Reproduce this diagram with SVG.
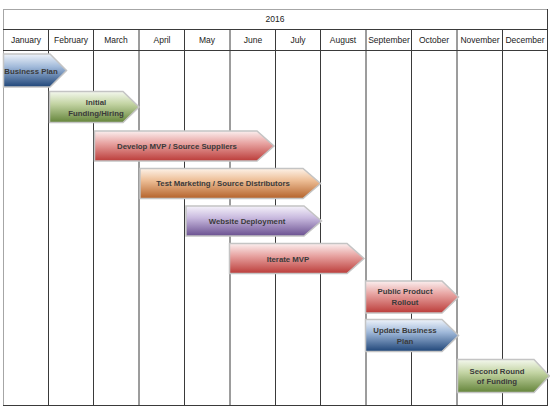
<svg xmlns="http://www.w3.org/2000/svg" width="550" height="411" viewBox="0 0 550 411">
<defs>
<linearGradient id="gBlue" x1="0" y1="0" x2="0" y2="1">
<stop offset="0" stop-color="#eef3fa"/><stop offset="0.4" stop-color="#9fb8d9"/><stop offset="1" stop-color="#1f4578"/>
</linearGradient>
<linearGradient id="gGreen" x1="0" y1="0" x2="0" y2="1">
<stop offset="0" stop-color="#f4f8ee"/><stop offset="0.4" stop-color="#c3d4a3"/><stop offset="1" stop-color="#64843a"/>
</linearGradient>
<linearGradient id="gRed" x1="0" y1="0" x2="0" y2="1">
<stop offset="0" stop-color="#fbefef"/><stop offset="0.4" stop-color="#e8a5a3"/><stop offset="1" stop-color="#bb3c39"/>
</linearGradient>
<linearGradient id="gOrange" x1="0" y1="0" x2="0" y2="1">
<stop offset="0" stop-color="#fdf2e8"/><stop offset="0.4" stop-color="#edbe96"/><stop offset="1" stop-color="#b4622a"/>
</linearGradient>
<linearGradient id="gPurple" x1="0" y1="0" x2="0" y2="1">
<stop offset="0" stop-color="#f5f2fa"/><stop offset="0.4" stop-color="#c8b9de"/><stop offset="1" stop-color="#6a5090"/>
</linearGradient>
</defs>
<style>
.grid{stroke:#3a3a3a;stroke-width:1;fill:none}
.outer{stroke:#a6a6a6;stroke-width:1;fill:none}
.hdr{font-family:"Liberation Sans",Arial,sans-serif;font-size:8.5px;fill:#222;text-anchor:middle}
.bar{stroke:#c4c4c4;stroke-width:1.5}
.lbl{font-family:"Liberation Sans",Arial,sans-serif;font-size:7.8px;font-weight:bold;fill:#3a3a3a;text-anchor:middle}
</style>
<rect width="550" height="411" fill="#ffffff"/>
<g id="table">
<rect class="outer" x="3.5" y="9.5" width="544" height="396"/>
<line class="grid" x1="3" y1="29.5" x2="548" y2="29.5"/>
<line class="grid" x1="3" y1="50.5" x2="548" y2="50.5"/>
<line class="grid" x1="3" y1="405.5" x2="548" y2="405.5"/>
<line class="grid" x1="547.5" y1="9" x2="547.5" y2="406"/>
<line class="grid" x1="48.5" y1="29" x2="48.5" y2="406"/>
<line class="grid" x1="93.5" y1="29" x2="93.5" y2="406"/>
<line class="grid" x1="139" y1="29" x2="139" y2="406"/>
<line class="grid" x1="184.5" y1="29" x2="184.5" y2="406"/>
<line class="grid" x1="230" y1="29" x2="230" y2="406"/>
<line class="grid" x1="275.5" y1="29" x2="275.5" y2="406"/>
<line class="grid" x1="320.5" y1="29" x2="320.5" y2="406"/>
<line class="grid" x1="366" y1="29" x2="366" y2="406"/>
<line class="grid" x1="411.5" y1="29" x2="411.5" y2="406"/>
<line class="grid" x1="457" y1="29" x2="457" y2="406"/>
<line class="grid" x1="502.5" y1="29" x2="502.5" y2="406"/>
<text class="hdr" x="275" y="22">2016</text>
<text class="hdr" x="26" y="43">January</text>
<text class="hdr" x="71" y="43">February</text>
<text class="hdr" x="116" y="43">March</text>
<text class="hdr" x="162" y="43">April</text>
<text class="hdr" x="207" y="43">May</text>
<text class="hdr" x="253" y="43">June</text>
<text class="hdr" x="298" y="43">July</text>
<text class="hdr" x="343" y="43">August</text>
<text class="hdr" x="389" y="43">September</text>
<text class="hdr" x="434" y="43">October</text>
<text class="hdr" x="480" y="43">November</text>
<text class="hdr" x="525" y="43">December</text>
</g>
<g id="business-plan">
<path class="bar" fill="url(#gBlue)" d="M3.5 54 H50 L66.5 70.5 L50 87 H3.5 Z"/>
<text class="lbl" x="31" y="73.5">Business Plan</text>
</g>
<g id="initial-funding">
<path class="bar" fill="url(#gGreen)" d="M49.5 91.5 H123 L139 107 L123 122.5 H49.5 Z"/>
<text class="lbl" x="96" y="104.5">Initial</text>
<text class="lbl" x="96" y="115.5">Funding/Hiring</text>
</g>
<g id="develop-mvp">
<path class="bar" fill="url(#gRed)" d="M94.5 131 H257 L274 146 L257 161 H94.5 Z"/>
<text class="lbl" x="177" y="148.5">Develop MVP / Source Suppliers</text>
</g>
<g id="test-marketing">
<path class="bar" fill="url(#gOrange)" d="M140 168.5 H303 L320.5 183.5 L303 198.5 H140 Z"/>
<text class="lbl" x="223" y="186">Test Marketing / Source Distributors</text>
</g>
<g id="website-deployment">
<path class="bar" fill="url(#gPurple)" d="M186 206 H304 L321.5 221 L304 236 H186 Z"/>
<text class="lbl" x="247" y="223.5">Website Deployment</text>
</g>
<g id="iterate-mvp">
<path class="bar" fill="url(#gRed)" d="M229.5 243.5 H347 L364 258.5 L347 273.5 H229.5 Z"/>
<text class="lbl" x="288" y="261.5">Iterate MVP</text>
</g>
<g id="public-rollout">
<path class="bar" fill="url(#gRed)" d="M365.5 281 H442 L458.5 297 L442 313 H365.5 Z"/>
<text class="lbl" x="405" y="293.5">Public Product</text>
<text class="lbl" x="405" y="304.5">Rollout</text>
</g>
<g id="update-plan">
<path class="bar" fill="url(#gBlue)" d="M365.5 319.5 H442 L458.5 335.5 L442 351.5 H365.5 Z"/>
<text class="lbl" x="405" y="333">Update Business</text>
<text class="lbl" x="405" y="344">Plan</text>
</g>
<g id="second-funding">
<path class="bar" fill="url(#gGreen)" d="M457.5 359.5 H534 L549.5 376 L534 392.5 H457.5 Z"/>
<text class="lbl" x="497" y="373.5">Second Round</text>
<text class="lbl" x="497" y="384">of Funding</text>
</g>
<g id="connectors"></g>
</svg>
